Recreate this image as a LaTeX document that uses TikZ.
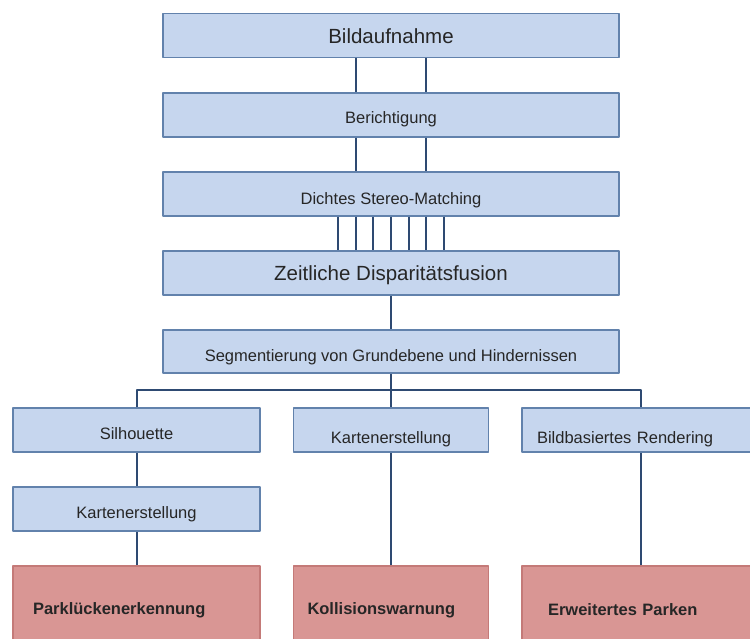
\documentclass[tikz,border=0pt]{standalone}
\usepackage{fontspec}
\setmainfont{Liberation Sans}
\definecolor{boxfill}{HTML}{C6D6EE}
\definecolor{boxline}{HTML}{6282AC}
\definecolor{redfill}{HTML}{D99694}
\definecolor{redline}{HTML}{C47A78}
\definecolor{wirecol}{HTML}{2E4A72}
\definecolor{ink}{HTML}{262626}
\tikzset{
  stage/.style={draw=boxline, fill=boxfill, line width=1.5pt, minimum width=456pt, minimum height=44pt, inner sep=0pt, text=ink},
  big/.style={font=\fontsize{20.5}{24}\selectfont},
  small/.style={font=\fontsize{16.5}{20}\selectfont},
  low/.style={text height=#1, text depth=0pt},
  app/.style={draw=redline, fill=redfill, line width=1.5pt, minimum height=88pt, inner ysep=0pt, align=left, text=ink, font=\fontsize{16.5}{20}\selectfont\bfseries},
  wire/.style={draw=wirecol, line width=2pt}
}
\begin{document}
\begin{tikzpicture}[x=1pt, y=-1pt, line join=round]
	\useasboundingbox (0,0) rectangle (750,639);
	\clip (0,0) rectangle (750,639);
	\def\xm{391} \def\yb{390}
	% stages of the pipeline
	\path 
	(\xm,35.5) node[stage,big,low=17pt] (bild) {Bildaufnahme}
	(\xm,115) node[stage,small,low=16.5pt] (ber) {Berichtigung}
	(\xm,194) node[stage,small,low=20.5pt] (dsm) {Dichtes Stereo-Matching}
	(\xm,273) node[stage,big,low=14.7pt] (zdf) {Zeitliche Disparitätsfusion}
	(\xm,351.5) node[stage,small,low=20.5pt,minimum height=43pt] (seg) {Segmentierung von Grundebene und Hindernissen};
	\path 
	(136.5,430) node[stage,small,low=18pt,minimum width=247pt] (sil) {Silhouette}
	(\xm,430) node[stage,small,low=26.5pt,minimum width=195pt] (kar) {Kartenerstellung}
	(641,430) node[stage,small,low=26.5pt,minimum width=238pt,inner xsep=15pt,text width=208pt,align=left] (bbr) {Bildbasiertes Rendering}
	(136.5,509) node[stage,small,low=18.5pt,minimum width=247pt] (karte) {Kartenerstellung};
	% applications
	\path 
	(136.5,610) node[app,inner xsep=20pt,text width=207pt] (park) {Parklückenerkennung}
	(\xm,610) node[app,inner xsep=14pt,text width=167pt] (koll) {Kollisionswarnung}
	(641,610) node[app,inner xsep=26pt,text width=186pt] (erw) {Erweitertes Parken};
	% connections
	\foreach \a/\b in {bild/ber,ber/dsm} \foreach \d in {-35,35}
		\draw[wire] ([xshift=\d]\a.south) -- ([xshift=\d]\b.north);
	\foreach \i in {-3,...,3} \draw[wire] ([xshift=\i*17.6]dsm.south) -- ([xshift=\i*17.6]zdf.north);
	\coordinate (bus) at (\xm,\yb);
	\draw[wire] (zdf) -- (seg) (seg) -- (bus) -- (kar);
	\draw[wire] (sil.north) |- (bus) -| (bbr.north);
	\draw[wire] (sil) -- (karte) (karte) -- (park) (kar) -- (koll) (bbr) -- (erw);
\end{tikzpicture}
\end{document}
